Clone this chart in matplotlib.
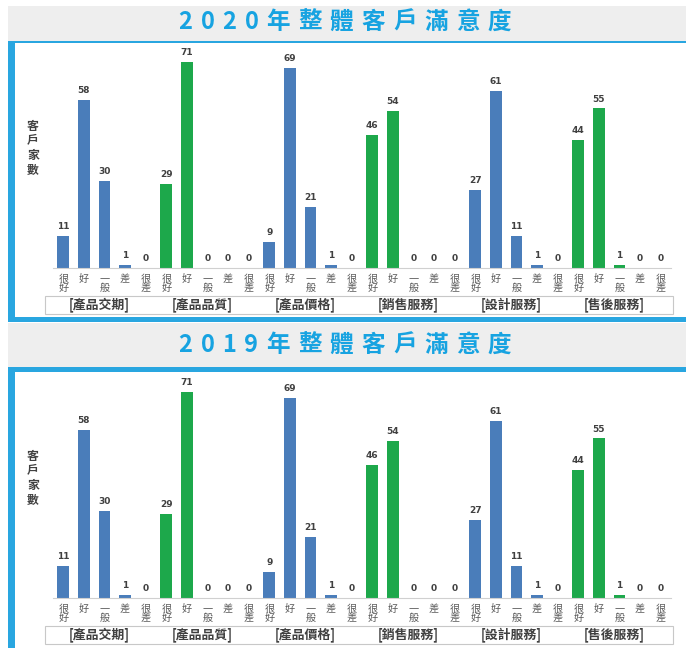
import matplotlib
matplotlib.use("Agg")
import matplotlib.pyplot as plt
from matplotlib.patches import Rectangle
from matplotlib.transforms import blended_transform_factory

plt.rcParams['font.family'] = ['Noto Sans CJK TC', 'DejaVu Sans']

# ---------------- data ----------------
titles = ['2020年整體客戶滿意度', '2019年整體客戶滿意度']
groups = ['[產品交期]', '[產品品質]', '[產品價格]', '[銷售服務]', '[設計服務]', '[售後服務]']
levels = ['很\n好', '好', '一\n般', '差', '很\n差']
values_2020 = [11, 58, 30, 1, 0,
               29, 71, 0, 0, 0,
               9, 69, 21, 1, 0,
               46, 54, 0, 0, 0,
               27, 61, 11, 1, 0,
               44, 55, 1, 0, 0]
values_2019 = [11, 58, 30, 1, 0,
               29, 71, 0, 0, 0,
               9, 69, 21, 1, 0,
               46, 54, 0, 0, 0,
               27, 61, 11, 1, 0,
               44, 55, 1, 0, 0]
ylabel = '客戶家數'

BLUE_BAR = '#4A7DBA'
GREEN_BAR = '#1DA84B'
FRAME = '#29A6E0'
TITLE_C = '#17A3E1'
BANNER = '#EEEEEE'
TXT = '#404040'

W, H = 686, 648
fig = plt.figure(figsize=(W / 100, H / 100), dpi=100)
renderer = fig.canvas.get_renderer()


def rect(x0, y0, x1, y1, fc, ec='none', lw=0, z=0):
    fig.patches.append(Rectangle((x0 / W, 1 - y1 / H), (x1 - x0) / W, (y1 - y0) / H,
                                 transform=fig.transFigure, facecolor=fc,
                                 edgecolor=ec, linewidth=lw, zorder=z))


def tracked_title(text, cx, cy, size, track_px):
    objs = []
    widths = []
    for ch in text:
        t = fig.text(0, 1 - cy / H, ch, fontsize=size, color=TITLE_C, weight='bold',
                     ha='left', va='center', zorder=5)
        objs.append(t)
        widths.append(t.get_window_extent(renderer).width)
    total = sum(widths) + track_px * (len(text) - 1)
    x = cx - total / 2
    for t, w in zip(objs, widths):
        t.set_x(x / W)
        x += w + track_px


def panel(values, title, banner_y0, banner_y1, line_y0, line_y1, frame_bottom,
          baseline, title_cy):
    # banner
    rect(8, banner_y0, W, banner_y1, BANNER)
    rect(8, line_y0, W, line_y1, FRAME, z=1)
    # left frame bar
    rect(8, line_y0, 15, frame_bottom if frame_bottom else H, FRAME, z=1)
    if frame_bottom:
        rect(8, frame_bottom - 5, W, frame_bottom, FRAME, z=1)
    tracked_title(title, 345, title_cy, 17, 8.0)

    # axes
    x_left, x_right = 53, 671
    px_per_unit = 206 / 71
    ymax = 75
    top = baseline - ymax * px_per_unit
    ax = fig.add_axes([x_left / W, 1 - baseline / H, (x_right - x_left) / W,
                       (baseline - top) / H])
    ax.patch.set_alpha(0)
    n = len(values)
    xs = list(range(n))
    colors = [BLUE_BAR if (i // 5) % 2 == 0 else GREEN_BAR for i in xs]
    ax.bar(xs, values, width=0.58, color=colors, zorder=2)
    ax.set_xlim(-0.5, n - 0.5)
    ax.set_ylim(0, ymax)
    for s in ['top', 'right', 'left']:
        ax.spines[s].set_visible(False)
    ax.spines['bottom'].set_color('#D0D0D0')
    ax.spines['bottom'].set_linewidth(0.8)
    ax.set_yticks([])
    ax.set_xticks(xs)
    ax.set_xticklabels(levels * len(groups), fontsize=7.3, color='#595959',
                       linespacing=0.92)
    ax.tick_params(axis='x', length=0, pad=4)
    for x, v in zip(xs, values):
        ax.annotate(str(v), (x, v), xytext=(0, 3.5), textcoords='offset points',
                    ha='center', va='bottom', fontsize=6.5, color=TXT,
                    weight='bold', family=['DejaVu Sans'])
    # group label box
    box_top = baseline + 28
    box_bot = baseline + 46
    rect(45, box_top, 673, box_bot, 'none', ec='#C8C8C8', lw=0.8, z=3)
    tr = blended_transform_factory(ax.transData, fig.transFigure)
    for g, name in enumerate(groups):
        ax.annotate(name, (g * 5 + 2, 1 - (box_top + box_bot) / 2 / H), xycoords=tr,
                    xytext=(-4, 0), textcoords='offset points',
                    ha='center', va='center', fontsize=9.3, weight='bold', color=TXT,
                    annotation_clip=False)
    # y label
    fig.text(33 / W, 1 - (baseline - 120) / H, '\n'.join(ylabel), ha='center',
             va='center', fontsize=8.5, weight='bold', color=TXT, linespacing=1.15)


panel(values_2020, titles[0], 6, 41, 41, 43, 322, 268, 22)
panel(values_2019, titles[1], 323, 367, 367, 372, None, 598, 345)

fig.savefig('out.png', dpi=100, facecolor='white')
